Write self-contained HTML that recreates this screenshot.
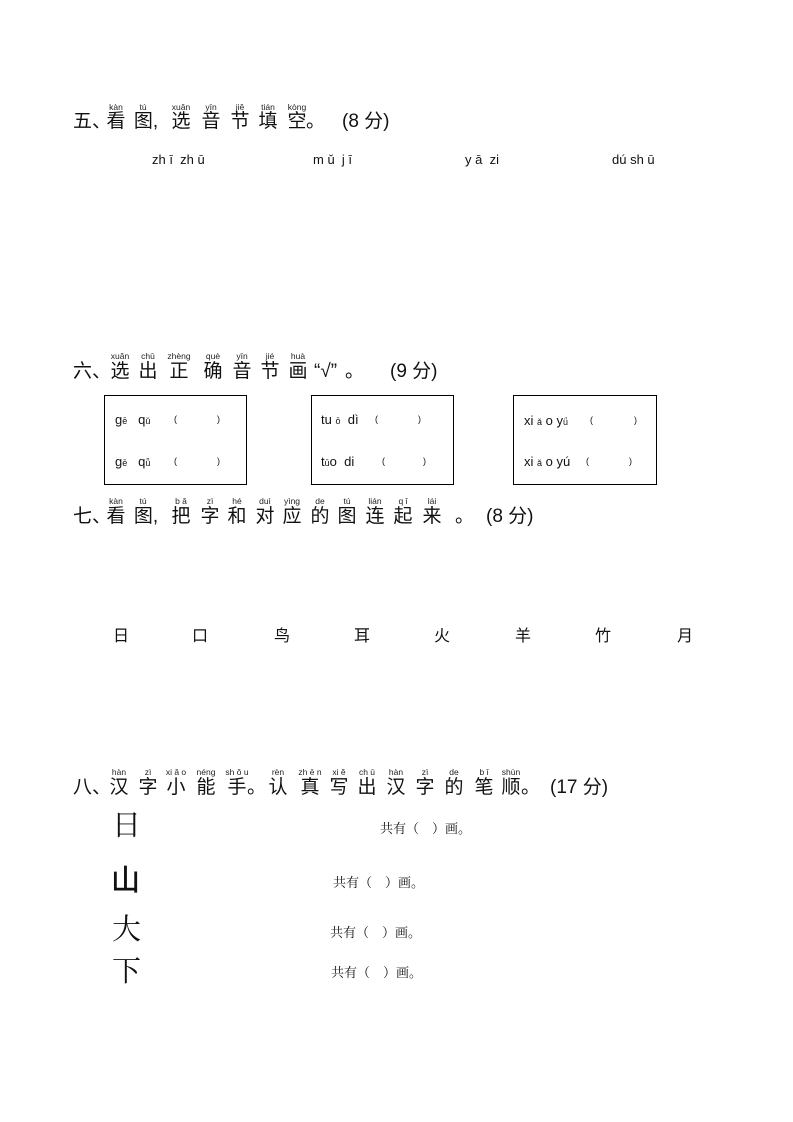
<!DOCTYPE html>
<html><head><meta charset="utf-8">
<style>
body{margin:0;width:793px;height:1122px;background:#fff;position:relative;font-family:"Liberation Sans","Noto Sans CJK SC",sans-serif;color:#111;overflow:hidden}
.c{position:absolute;transform:translateX(-50%);white-space:nowrap;line-height:1}
.h{font-size:19px}
.p{font-size:8.5px;color:#222}
.t{position:absolute;white-space:nowrap;line-height:1}
.box{position:absolute;border:1.3px solid #000;top:395px;height:88px;width:141px}
.bx{position:absolute;font-size:13px;white-space:nowrap;line-height:1}
.sm{font-size:9px}
.s{font-family:"Liberation Serif","Noto Serif CJK SC",serif;font-size:13px;position:absolute;white-space:nowrap;line-height:1}
.big{position:absolute;font-family:"Noto Serif CJK SC",serif;font-size:29px;line-height:1}
</style></head><body>

<!-- 五 -->
<div class="t h" style="left:73px;top:112px">五、</div>
<div class="c p" style="left:116px;top:103px">kàn</div><div class="c h" style="left:116px;top:112px">看</div>
<div class="c p" style="left:143px;top:103px">tú</div><div class="c h" style="left:146px;top:112px">图,</div>
<div class="c p" style="left:181px;top:103px">xuǎn</div><div class="c h" style="left:181px;top:112px">选</div>
<div class="c p" style="left:211px;top:103px">yīn</div><div class="c h" style="left:211px;top:112px">音</div>
<div class="c p" style="left:240px;top:103px">jiě</div><div class="c h" style="left:240px;top:112px">节</div>
<div class="c p" style="left:268px;top:103px">tián</div><div class="c h" style="left:268px;top:112px">填</div>
<div class="c p" style="left:297px;top:103px">kòng</div><div class="c h" style="left:297px;top:112px">空</div>
<div class="t h" style="left:306px;top:112px">。</div>
<div class="t h" style="left:342px;top:112px">(8 分)</div>
<div class="t" style="left:152px;top:153px;font-size:13px">zh ī&nbsp; zh ū</div>
<div class="t" style="left:313px;top:153px;font-size:13px">m ǔ&nbsp; j ī</div>
<div class="t" style="left:465px;top:153px;font-size:13px">y ā&nbsp; zi</div>
<div class="t" style="left:612px;top:153px;font-size:13px">dú sh ū</div>

<!-- 六 -->
<div class="t h" style="left:73px;top:362px">六、</div>
<div class="c p" style="left:120px;top:352px">xuǎn</div><div class="c h" style="left:120px;top:362px">选</div>
<div class="c p" style="left:148px;top:352px">chū</div><div class="c h" style="left:148px;top:362px">出</div>
<div class="c p" style="left:179px;top:352px">zhèng</div><div class="c h" style="left:179px;top:362px">正</div>
<div class="c p" style="left:213px;top:352px">què</div><div class="c h" style="left:213px;top:362px">确</div>
<div class="c p" style="left:242px;top:352px">yīn</div><div class="c h" style="left:242px;top:362px">音</div>
<div class="c p" style="left:270px;top:352px">jié</div><div class="c h" style="left:270px;top:362px">节</div>
<div class="c p" style="left:298px;top:352px">huà</div><div class="c h" style="left:298px;top:362px">画</div>
<div class="t h" style="left:314px;top:362px">“√”</div>
<div class="t h" style="left:345px;top:362px">。</div>
<div class="t h" style="left:390px;top:362px">(9 分)</div>

<div class="box" style="left:104px"></div>
<div class="box" style="left:311px"></div>
<div class="box" style="left:513px;width:142px"></div>
<div class="bx" style="left:115px;top:413px">g<span class="sm">ē</span>&nbsp;&nbsp; q<span class="sm">ǔ</span></div><div class="bx sm" style="left:174px;top:415px">(</div><div class="bx sm" style="left:217px;top:415px">)</div>
<div class="bx" style="left:115px;top:455px">g<span class="sm">ē</span>&nbsp;&nbsp; q<span class="sm">ǚ</span></div><div class="bx sm" style="left:174px;top:457px">(</div><div class="bx sm" style="left:217px;top:457px">)</div>
<div class="bx" style="left:321px;top:413px">tu <span class="sm">ō</span>&nbsp; dì</div><div class="bx sm" style="left:375px;top:415px">(</div><div class="bx sm" style="left:418px;top:415px">)</div>
<div class="bx" style="left:321px;top:455px">t<span class="sm">ū</span>o&nbsp; di</div><div class="bx sm" style="left:382px;top:457px">(</div><div class="bx sm" style="left:423px;top:457px">)</div>
<div class="bx" style="left:524px;top:414px">xi <span class="sm">ǎ</span> o y<span class="sm">ǘ</span></div><div class="bx sm" style="left:590px;top:416px">(</div><div class="bx sm" style="left:634px;top:416px">)</div>
<div class="bx" style="left:524px;top:455px">xi <span class="sm">ǎ</span> o yú</div><div class="bx sm" style="left:586px;top:457px">(</div><div class="bx sm" style="left:629px;top:457px">)</div>

<!-- 七 -->
<div class="t h" style="left:73px;top:507px">七、</div>
<div class="c p" style="left:116px;top:497px">kàn</div><div class="c h" style="left:116px;top:507px">看</div>
<div class="c p" style="left:143px;top:497px">tú</div><div class="c h" style="left:146px;top:507px">图,</div>
<div class="c p" style="left:181px;top:497px">b ǎ</div><div class="c h" style="left:181px;top:507px">把</div>
<div class="c p" style="left:210px;top:497px">zì</div><div class="c h" style="left:210px;top:507px">字</div>
<div class="c p" style="left:237px;top:497px">hé</div><div class="c h" style="left:237px;top:507px">和</div>
<div class="c p" style="left:265px;top:497px">duì</div><div class="c h" style="left:265px;top:507px">对</div>
<div class="c p" style="left:292px;top:497px">yìng</div><div class="c h" style="left:292px;top:507px">应</div>
<div class="c p" style="left:320px;top:497px">de</div><div class="c h" style="left:320px;top:507px">的</div>
<div class="c p" style="left:347px;top:497px">tú</div><div class="c h" style="left:347px;top:507px">图</div>
<div class="c p" style="left:375px;top:497px">lián</div><div class="c h" style="left:375px;top:507px">连</div>
<div class="c p" style="left:403px;top:497px">q ǐ</div><div class="c h" style="left:403px;top:507px">起</div>
<div class="c p" style="left:432px;top:497px">lái</div><div class="c h" style="left:432px;top:507px">来</div>
<div class="t h" style="left:455px;top:507px">。</div>
<div class="t h" style="left:486px;top:507px">(8 分)</div>

<div class="c" style="left:121px;top:629px;font-size:16px">日</div>
<div class="c" style="left:200px;top:629px;font-size:16px">口</div>
<div class="c" style="left:282px;top:629px;font-size:16px">鸟</div>
<div class="c" style="left:362px;top:629px;font-size:16px">耳</div>
<div class="c" style="left:442px;top:629px;font-size:16px">火</div>
<div class="c" style="left:523px;top:629px;font-size:16px">羊</div>
<div class="c" style="left:603px;top:629px;font-size:16px">竹</div>
<div class="c" style="left:685px;top:629px;font-size:16px">月</div>

<!-- 八 -->
<div class="t h" style="left:73px;top:778px">八、</div>
<div class="c p" style="left:119px;top:768px">hàn</div><div class="c h" style="left:119px;top:778px">汉</div>
<div class="c p" style="left:148px;top:768px">zì</div><div class="c h" style="left:148px;top:778px">字</div>
<div class="c p" style="left:176px;top:768px">xi ǎ o</div><div class="c h" style="left:176px;top:778px">小</div>
<div class="c p" style="left:206px;top:768px">néng</div><div class="c h" style="left:206px;top:778px">能</div>
<div class="c p" style="left:237px;top:768px">sh ǒ u</div><div class="c h" style="left:237px;top:778px">手</div>
<div class="t h" style="left:247px;top:778px">。</div>
<div class="c p" style="left:278px;top:768px">rèn</div><div class="c h" style="left:278px;top:778px">认</div>
<div class="c p" style="left:310px;top:768px">zh ē n</div><div class="c h" style="left:310px;top:778px">真</div>
<div class="c p" style="left:339px;top:768px">xi ě</div><div class="c h" style="left:339px;top:778px">写</div>
<div class="c p" style="left:367px;top:768px">ch ū</div><div class="c h" style="left:367px;top:778px">出</div>
<div class="c p" style="left:396px;top:768px">hàn</div><div class="c h" style="left:396px;top:778px">汉</div>
<div class="c p" style="left:425px;top:768px">zì</div><div class="c h" style="left:425px;top:778px">字</div>
<div class="c p" style="left:454px;top:768px">de</div><div class="c h" style="left:454px;top:778px">的</div>
<div class="c p" style="left:484px;top:768px">b ǐ</div><div class="c h" style="left:484px;top:778px">笔</div>
<div class="c p" style="left:511px;top:768px">shùn</div><div class="c h" style="left:511px;top:778px">顺</div>
<div class="t h" style="left:521px;top:778px">。</div>
<div class="t h" style="left:550px;top:778px">(17 分)</div>

<div class="big" style="left:112px;top:809px">日</div>
<div class="big" style="left:111px;top:864px;font-family:'Noto Sans CJK SC',sans-serif;font-weight:500;font-size:29px">山</div>
<div class="big" style="left:112px;top:913px">大</div>
<div class="big" style="left:112px;top:955px">下</div>
<div class="s" style="left:380px;top:822px">共有（&nbsp;&nbsp;&nbsp;&nbsp;）画。</div>
<div class="s" style="left:333px;top:876px">共有（&nbsp;&nbsp;&nbsp;&nbsp;）画。</div>
<div class="s" style="left:330px;top:926px">共有（&nbsp;&nbsp;&nbsp;&nbsp;）画。</div>
<div class="s" style="left:331px;top:966px">共有（&nbsp;&nbsp;&nbsp;&nbsp;）画。</div>
</body></html>
